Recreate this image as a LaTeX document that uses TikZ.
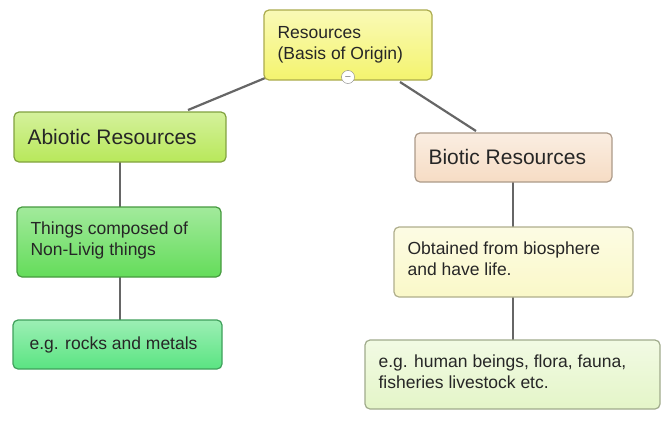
\documentclass[tikz,border=0pt]{standalone}
\usepackage{fontspec}
\setmainfont{Liberation Sans}
\begin{document}
\begin{tikzpicture}[x=1pt,y=-1pt,
 box/.style={draw=#1!70!black, line width=1.2pt, rounded corners=5pt},
 lbl/.style={anchor=west, align=left, font=\fontsize{17.5}{21}\selectfont, text=black!85},
 big/.style={anchor=west, font=\fontsize{21}{25}\selectfont, text=black!85},
 conn/.style={draw=black!60, line width=2.2pt}]
\useasboundingbox (0,0) rectangle (671,421);
\definecolor{yel}{RGB}{244,244,110}
\definecolor{abio}{RGB}{184,232,90}
\definecolor{things}{RGB}{100,220,90}
\definecolor{rocks}{RGB}{90,228,130}
\definecolor{bio}{RGB}{246,220,196}
\definecolor{obt}{RGB}{250,248,200}
\definecolor{hum}{RGB}{228,245,200}
% connectors
\coordinate (r1) at (270,76); \coordinate (a1) at (188,110);
\coordinate (r2) at (400,82); \coordinate (b1) at (476,131);
\draw[conn] (r1) -- (a1);
\draw[conn] (r2) -- (b1);
\coordinate (a2) at (120,162); \coordinate (t1) at (120,207);
\coordinate (t2) at (120,277); \coordinate (k1) at (120,320);
\coordinate (b2) at (513,182); \coordinate (o1) at (513,227);
\coordinate (o2) at (513,297); \coordinate (h1) at (513,340);
\draw[conn] (a2)--(t1); \draw[conn] (t2)--(k1);
\draw[conn] (b2)--(o1); \draw[conn] (o2)--(h1);
% boxes
\draw[box=yel, top color=yel!50, bottom color=yel] (264,10) rectangle (432,80);
\node[lbl] (res) at (274,45) {Resources\\(Basis of Origin)};
\node[circle, draw=black!50, fill=white, inner sep=0pt, minimum size=13pt, font=\small] (min) at (348,77) {$-$};
\draw[box=abio, top color=abio!60, bottom color=abio] (14,112) rectangle (226,162);
\node[big] (abio) at (24,137) {Abiotic Resources};
\draw[box=things, top color=things!60, bottom color=things] (17,207) rectangle (221,277);
\node[lbl] (th) at (27,240) {Things composed of\\Non-Livig things};
\draw[box=rocks, top color=rocks!60, bottom color=rocks] (13,320) rectangle (222,369);
\node[lbl] (rk) at (26,345) {e.g. rocks and metals};
\draw[box=bio, top color=bio!50, bottom color=bio] (415,133) rectangle (612,182);
\node[big] (bio) at (425,157) {Biotic Resources};
\draw[box=obt, top color=obt!50, bottom color=obt] (394,227) rectangle (633,297);
\node[lbl] (ob) at (404,259) {Obtained from biosphere\\and have life.};
\draw[box=hum, top color=hum!50, bottom color=hum] (365,340) rectangle (660,409);
\node[lbl] (hu) at (375,372) {e.g. human beings, flora, fauna,\\fisheries livestock etc.};
\end{tikzpicture}
\end{document}
